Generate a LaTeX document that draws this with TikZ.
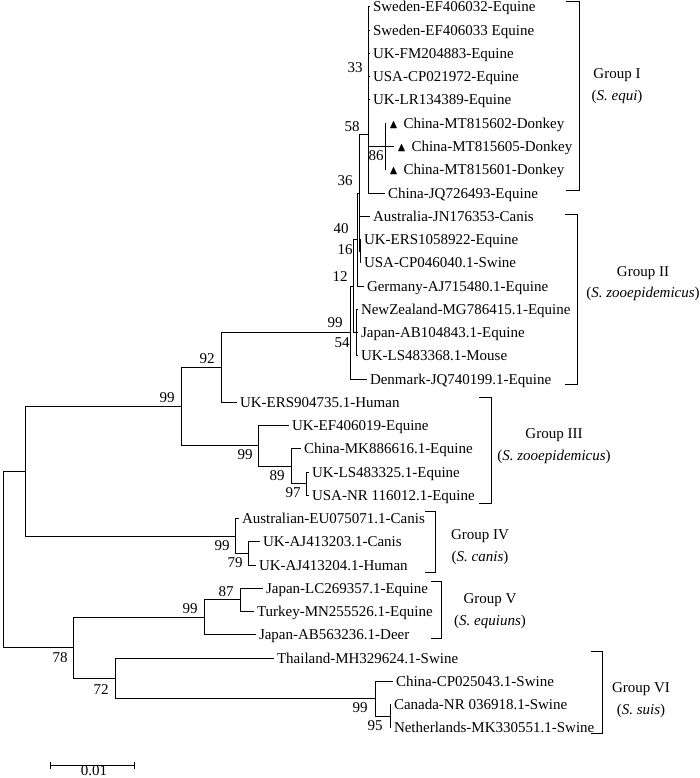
\documentclass[tikz,border=0pt]{standalone}
\usepackage{amsmath,amssymb}
\usepackage{fontspec}
\setmainfont{Liberation Serif}
\usepackage{tikz}
\usetikzlibrary{arrows.meta,calc}
\newcommand{\treefont}{\fontsize{15}{21.5}\selectfont}
\newcommand{\donkey}{{\fontsize{12.5}{14}\selectfont$\blacktriangle$}\hspace{5.5pt}}

\begin{document}
\begin{tikzpicture}[
x=1pt,
y=-1pt,
leaf/.style={
  anchor=west,
  inner sep=0pt,
  outer xsep=3pt,
  outer ysep=0pt,
  text height=11pt,
  text depth=1pt,
  font=\treefont
  },
boot/.style={
  inner sep=0pt,
  font=\treefont
  },
grp/.style={
  align=center,
  inner sep=0pt,
  font=\treefont
  },
br/.style={
  line width=1pt
  },
brk/.style={
  line width=1pt
  }
]
\useasboundingbox (0,0) rectangle (700,778);

%The leaves of group I
\node[leaf] (l00) at (370,7) {Sweden-EF406032-Equine};
\node[leaf] (l01) at (370,30.25) {Sweden-EF406033 Equine};
\node[leaf] (l02) at (370,53.5) {UK-FM204883-Equine};
\node[leaf] (l03) at (370,76.75) {USA-CP021972-Equine};
\node[leaf] (l04) at (370,100) {UK-LR134389-Equine};
\node[leaf] (l05) at (386,123.25) {\donkey China-MT815602-Donkey};
\node[leaf] (l06) at (394,146.5) {\donkey China-MT815605-Donkey};
\node[leaf] (l07) at (386,169.75) {\donkey China-MT815601-Donkey};
\node[leaf] (l08) at (385,193) {China-JQ726493-Equine};

%The leaves of group II
\node[leaf] (l09) at (370,216.25) {Australia-JN176353-Canis};
\node[leaf] (l10) at (361,239.5) {UK-ERS1058922-Equine};
\node[leaf] (l11) at (361,262.75) {USA-CP046040.1-Swine};
\node[leaf] (l12) at (364,286) {Germany-AJ715480.1-Equine};
\node[leaf] (l13) at (358,309.25) {NewZealand-MG786415.1-Equine};
\node[leaf] (l14) at (358,332.5) {Japan-AB104843.1-Equine};
\node[leaf] (l15) at (358,355.75) {UK-LS483368.1-Mouse};
\node[leaf] (l16) at (367,379) {Denmark-JQ740199.1-Equine};

%The leaves of group III
\node[leaf] (l17) at (237,402.25) {UK-ERS904735.1-Human};
\node[leaf] (l18) at (289,425.5) {UK-EF406019-Equine};
\node[leaf] (l19) at (301,448.75) {China-MK886616.1-Equine};
\node[leaf] (l20) at (309,472) {UK-LS483325.1-Equine};
\node[leaf] (l21) at (309,495.25) {USA-NR 116012.1-Equine};

%The leaves of group IV
\node[leaf] (l22) at (239,518.5) {Australian-EU075071.1-Canis};
\node[leaf] (l23) at (260,541.75) {UK-AJ413203.1-Canis};
\node[leaf] (l24) at (256,565) {UK-AJ413204.1-Human};

%The leaves of group V
\node[leaf] (l25) at (263,588.25) {Japan-LC269357.1-Equine};
\node[leaf] (l26) at (254,611.5) {Turkey-MN255526.1-Equine};
\node[leaf] (l27) at (256,634.75) {Japan-AB563236.1-Deer};

%The leaves of group VI
\node[leaf] (l28) at (274,658) {Thailand-MH329624.1-Swine};
\node[leaf] (l29) at (393,681.25) {China-CP025043.1-Swine};
\node[leaf] (l30) at (391,704.5) {Canada-NR 036918.1-Swine};
\node[leaf] (l31) at (391,727.75) {Netherlands-MK330551.1-Swine};

%Inner nodes
\coordinate (don) at (385,146.5);
\coordinate (eq1) at (368,76.75);
\coordinate (eq2) at (368,134.9);
\coordinate (zo1) at (359,193);
\coordinate (zo2) at (360,251.1);
\coordinate (zo3) at (357,239.5);
\coordinate (zo4) at (356,332.5);
\coordinate (zo5) at (353,286);
\coordinate (zo6) at (350,332.5);
\coordinate (nC) at (221,367.4);
\coordinate (nB) at (181,406.6);
\coordinate (nD) at (258,445.9);
\coordinate (nE) at (291,466.2);
\coordinate (nF) at (306,483.6);
\coordinate (nA) at (25,471.3);
\coordinate (nG) at (235,536);
\coordinate (nH) at (248,553.4);
\coordinate (root) at (3,559.5);
\coordinate (nI) at (73,647.8);
\coordinate (nJ) at (204,617.3);
\coordinate (nK) at (240,599.9);
\coordinate (nL) at (115,678.3);
\coordinate (nM) at (375,698.7);
\coordinate (nN) at (390,716.1);

%Branches
\draw[br] (don) |- (l05);
\draw[br] (don) |- (l06);
\draw[br] (don) |- (l07);
\draw[br] (eq1) |- (l00);
\draw[br] (eq1) |- (l01);
\draw[br] (eq1) |- (l02);
\draw[br] (eq1) |- (l03);
\draw[br] (eq1) |- (l04);
\draw[br] (eq1) |- (don);
\draw[br] (eq2) |- (eq1);
\draw[br] (eq2) |- (l08);
\draw[br] (zo1) |- (eq2);
\draw[br] (zo1) |- (l09);
\draw[br] (zo1) |- (zo2);
\draw[br] (zo2) |- (l10);
\draw[br] (zo2) |- (l11);
\draw[br] (zo3) |- (zo1);
\draw[br] (zo3) |- (l12);
\draw[br] (zo4) |- (l13);
\draw[br] (zo4) |- (l14);
\draw[br] (zo4) |- (l15);
\draw[br] (zo5) |- (zo3);
\draw[br] (zo5) |- (zo4);
\draw[br] (zo6) |- (zo5);
\draw[br] (zo6) |- (l16);
\draw[br] (nC) |- (zo6);
\draw[br] (nC) |- (l17);
\draw[br] (nB) |- (nC);
\draw[br] (nB) |- (nD);
\draw[br] (nD) |- (l18);
\draw[br] (nD) |- (nE);
\draw[br] (nE) |- (l19);
\draw[br] (nE) |- (nF);
\draw[br] (nF) |- (l20);
\draw[br] (nF) |- (l21);
\draw[br] (nA) |- (nB);
\draw[br] (nA) |- (nG);
\draw[br] (nG) |- (l22);
\draw[br] (nG) |- (nH);
\draw[br] (nH) |- (l23);
\draw[br] (nH) |- (l24);
\draw[br] (root) |- (nA);
\draw[br] (root) |- (nI);
\draw[br] (nI) |- (nJ);
\draw[br] (nI) |- (nL);
\draw[br] (nJ) |- (nK);
\draw[br] (nJ) |- (l27);
\draw[br] (nK) |- (l25);
\draw[br] (nK) |- (l26);
\draw[br] (nL) |- (l28);
\draw[br] (nL) |- (nM);
\draw[br] (nM) |- (l29);
\draw[br] (nM) |- (nN);
\draw[br] (nN) |- (l30);
\draw[br] (nN) |- (l31);

%Bootstrap values
\node[boot] (b33) at (355,68) {33};
\node[boot] (b58) at (352,127) {58};
\node[boot] (b86) at (376,156) {86};
\node[boot] (b36) at (345,181) {36};
\node[boot] (b40) at (341,229) {40};
\node[boot] (b16) at (345,250) {16};
\node[boot] (b12) at (340,277) {12};
\node[boot] (b99a) at (335,323) {99};
\node[boot] (b54) at (342,343) {54};
\node[boot] (b92) at (207,359) {92};
\node[boot] (b99b) at (167,398) {99};
\node[boot] (b99c) at (245,455) {99};
\node[boot] (b89) at (277,476) {89};
\node[boot] (b97) at (293,493) {97};
\node[boot] (b99d) at (222,546) {99};
\node[boot] (b79) at (235,563) {79};
\node[boot] (b87) at (226,592) {87};
\node[boot] (b99e) at (190,609) {99};
\node[boot] (b78) at (60,658) {78};
\node[boot] (b72) at (101,690) {72};
\node[boot] (b99f) at (360,708) {99};
\node[boot] (b95) at (375,726) {95};

%Groups
\draw[brk] (566,2) -- (579,2) -- (579,190) -- (566,190);
\draw[brk] (565,214) -- (577,214) -- (577,384) -- (565,384);
\draw[brk] (479,397) -- (491,397) -- (491,503) -- (479,503);
\draw[brk] (425,511) -- (435,511) -- (435,572) -- (425,572);
\draw[brk] (431,581) -- (441,581) -- (441,638) -- (431,638);
\draw[brk] (591,651) -- (602,651) -- (602,733) -- (591,733);

\node[grp] (g1) at (617,86) {Group I\\(\textit{S. equi})};
\node[grp] (g2) at (643,283.5) {Group II\\(\textit{S. zooepidemicus})};
\node[grp] (g3) at (554,446) {Group III\\(\textit{S. zooepidemicus})};
\node[grp] (g4) at (480,547) {Group IV\\(\textit{S. canis})};
\node[grp] (g5) at (490,611) {Group V\\(\textit{S. equiuns})};
\node[grp] (g6) at (641,700) {Group VI\\(\textit{S. suis})};

%Scale bar
\coordinate (sb1) at (50,765);
\coordinate (sb2) at (135,765);
\draw[br,{Bar[width=7pt]}-{Bar[width=7pt]}] (sb1) -- (sb2);
\node[boot] (sbl) at (94,771) {0.01};

\end{tikzpicture}
\end{document}
